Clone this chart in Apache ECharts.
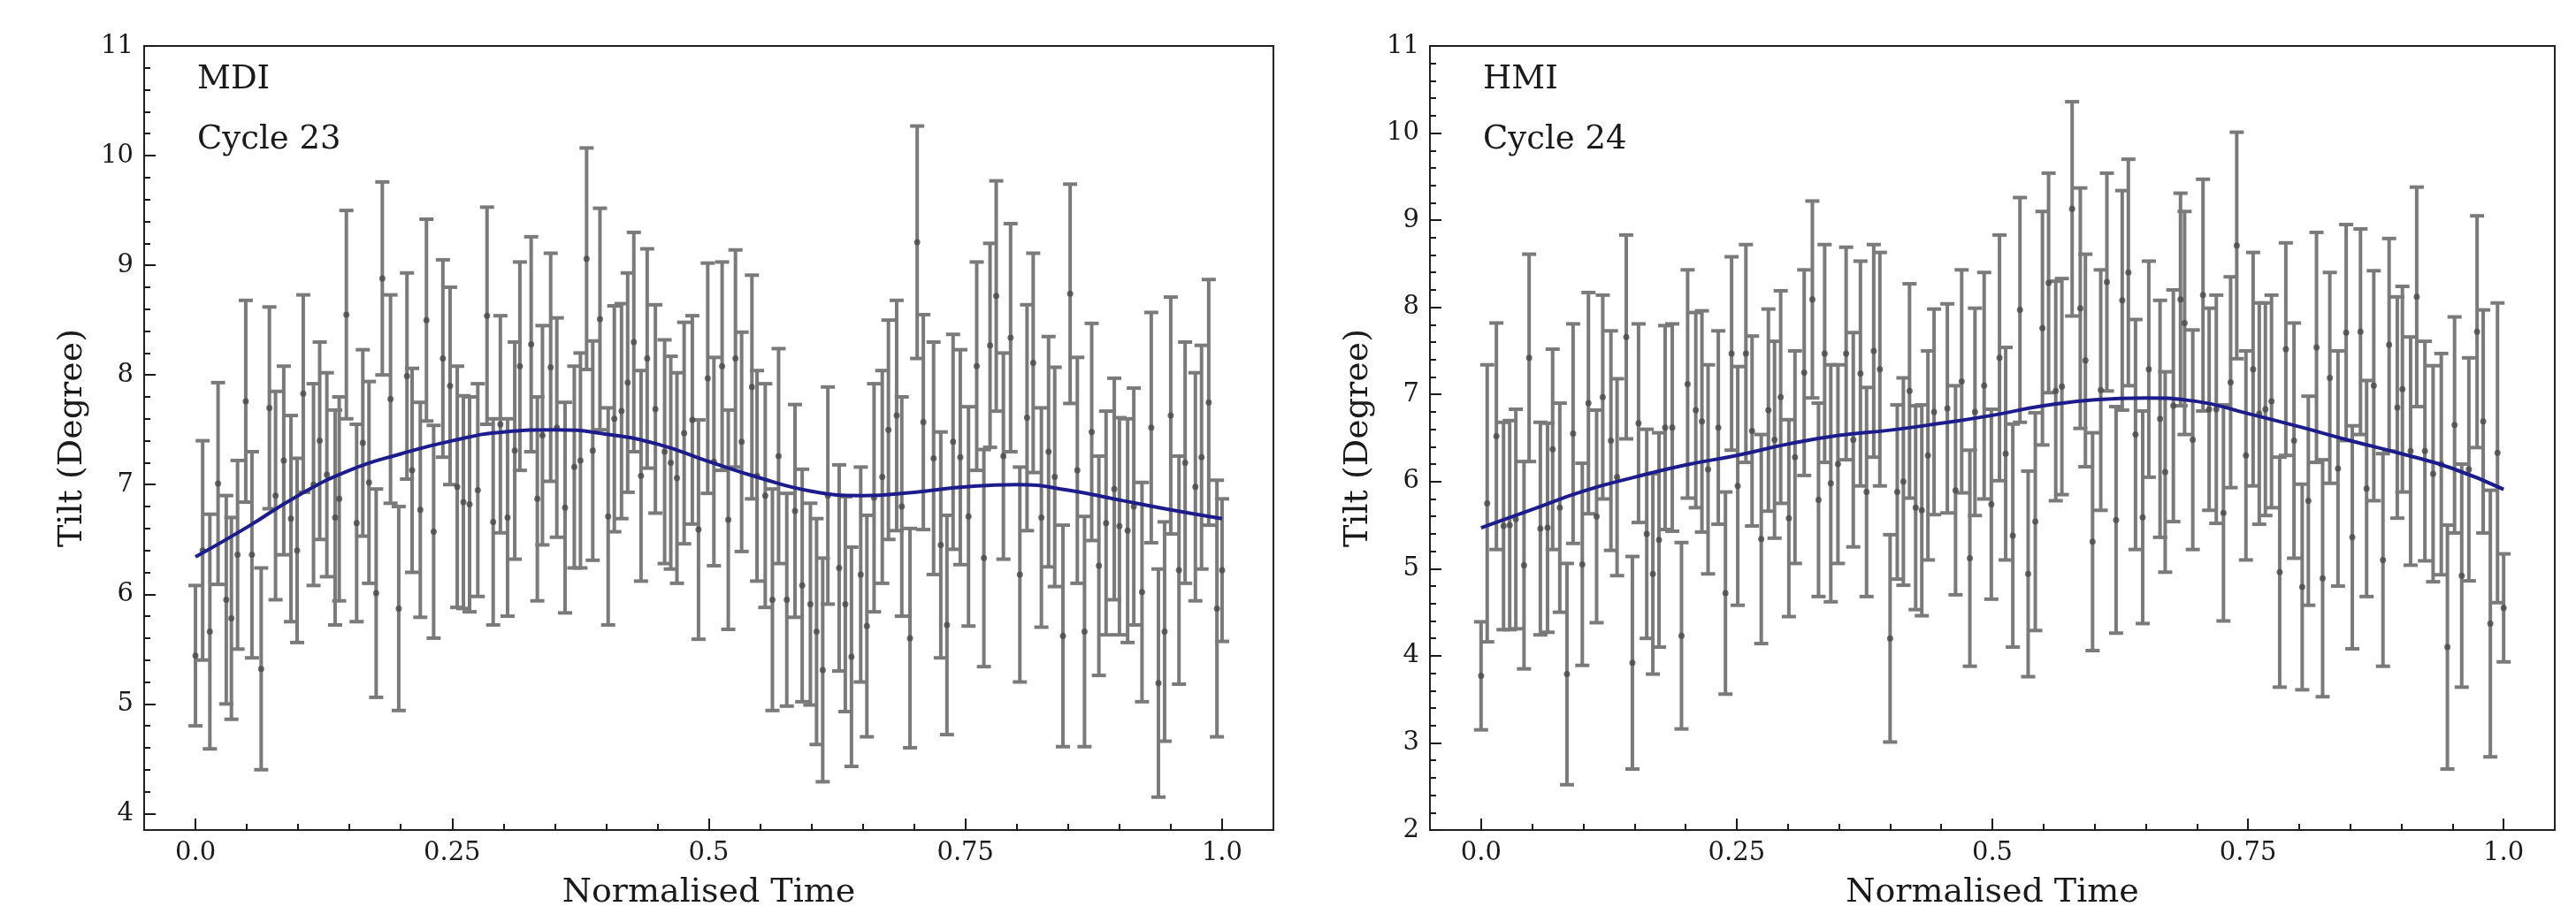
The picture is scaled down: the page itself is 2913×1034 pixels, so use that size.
<!DOCTYPE html>
<html>
<head>
<meta charset="utf-8">
<title>Tilt vs normalised time</title>
<script src="https://cdn.jsdelivr.net/npm/echarts@6/dist/echarts.min.js"></script>
<style>
	html, body { margin: 0; padding: 0; background: #fff; }
	#main { width: 2913px; height: 1034px; }
</style>
</head>
<body>
<div id="main"></div>
<script>
// tick marks and their labels
var xMajor = [0, 0.25, 0.5, 0.75, 1.0];
var xMajorLabels = ['0.0', '0.25', '0.5', '0.75', '1.0'];
var mdiYMajor = [4, 5, 6, 7, 8, 9, 10, 11];
var hmiYMajor = [2, 3, 4, 5, 6, 7, 8, 9, 10, 11];

// MDI, cycle 23: time, tilt, error half-width
var mdiTime = [0.000, 0.007, 0.014, 0.022, 0.030, 0.035, 0.041, 0.049, 0.055, 0.064,
	0.072, 0.078, 0.086, 0.093, 0.099, 0.105, 0.115, 0.121, 0.128, 0.136,
	0.140, 0.147, 0.157, 0.163, 0.169, 0.176, 0.182, 0.190, 0.198, 0.206,
	0.211, 0.219, 0.225, 0.232, 0.241, 0.248, 0.255, 0.261, 0.267, 0.275,
	0.284, 0.290, 0.297, 0.304, 0.311, 0.316, 0.327, 0.333, 0.338, 0.346,
	0.352, 0.360, 0.369, 0.375, 0.381, 0.387, 0.394, 0.402, 0.408, 0.415,
	0.421, 0.427, 0.434, 0.440, 0.448, 0.457, 0.463, 0.469, 0.476, 0.484,
	0.490, 0.499, 0.505, 0.513, 0.519, 0.526, 0.532, 0.542, 0.547, 0.555,
	0.562, 0.568, 0.576, 0.584, 0.591, 0.599, 0.605, 0.611, 0.616, 0.627,
	0.633, 0.639, 0.648, 0.654, 0.661, 0.669, 0.675, 0.683, 0.688, 0.696,
	0.703, 0.709, 0.719, 0.726, 0.732, 0.738, 0.745, 0.753, 0.761, 0.768,
	0.774, 0.780, 0.787, 0.794, 0.803, 0.810, 0.816, 0.824, 0.831, 0.837,
	0.845, 0.852, 0.859, 0.866, 0.873, 0.880, 0.887, 0.895, 0.900, 0.908,
	0.914, 0.922, 0.931, 0.938, 0.944, 0.950, 0.958, 0.964, 0.974, 0.980,
	0.987, 0.995, 1.000];
var mdiTilt = [5.44, 6.40, 5.66, 7.01, 5.95, 5.78, 6.36, 7.76, 6.36, 5.32,
	7.70, 6.90, 7.22, 6.69, 6.40, 7.83, 7.00, 7.40, 7.09, 6.70,
	6.87, 8.55, 6.65, 7.38, 7.02, 6.01, 8.88, 7.78, 5.87, 7.99,
	7.13, 6.77, 8.50, 6.57, 8.15, 7.90, 6.98, 6.84, 6.82, 6.95,
	8.54, 6.66, 7.55, 6.70, 7.31, 8.08, 8.28, 6.87, 7.45, 8.07,
	7.52, 6.79, 7.16, 7.22, 9.06, 7.31, 8.51, 6.71, 7.60, 7.67,
	7.93, 8.30, 7.08, 8.15, 7.69, 7.30, 7.20, 7.06, 7.47, 7.59,
	6.59, 7.97, 7.21, 8.08, 6.68, 8.15, 7.39, 7.89, 7.08, 6.90,
	5.95, 7.26, 5.95, 6.76, 6.08, 5.91, 5.66, 5.31, 6.90, 6.24,
	5.91, 5.43, 6.18, 5.71, 6.88, 7.07, 7.50, 7.63, 6.80, 5.60,
	9.21, 7.57, 7.24, 6.45, 5.72, 7.39, 7.25, 6.71, 8.08, 6.33,
	8.27, 8.72, 7.26, 8.34, 6.18, 7.61, 8.11, 6.70, 7.30, 7.07,
	5.62, 8.74, 7.13, 5.66, 7.48, 6.26, 6.65, 6.96, 6.62, 6.58,
	6.80, 6.02, 7.52, 5.19, 5.66, 7.63, 6.22, 7.20, 6.98, 7.25,
	7.75, 5.87, 6.22];
var mdiErr = [0.64, 1.00, 1.07, 0.92, 0.95, 0.92, 0.86, 0.92, 0.94, 0.92,
	0.92, 0.95, 0.86, 0.94, 0.84, 0.90, 0.92, 0.90, 0.93, 0.98,
	0.93, 0.95, 0.90, 0.85, 0.92, 0.95, 0.88, 0.95, 0.93, 0.94,
	0.93, 0.98, 0.92, 0.97, 0.90, 0.90, 1.10, 0.97, 0.98, 0.97,
	0.99, 0.94, 0.99, 0.90, 0.99, 0.95, 0.98, 0.93, 1.00, 1.04,
	1.00, 0.96, 0.92, 0.98, 1.01, 1.00, 1.01, 0.99, 1.03, 0.98,
	1.00, 1.00, 0.96, 1.00, 0.95, 1.02, 0.97, 0.96, 1.01, 0.95,
	1.00, 1.05, 0.95, 0.95, 1.00, 0.99, 1.00, 1.02, 0.96, 1.02,
	1.01, 0.98, 0.97, 0.97, 1.06, 0.92, 1.03, 1.02, 0.99, 0.94,
	0.98, 1.00, 0.98, 1.01, 1.04, 0.97, 1.00, 1.05, 1.00, 1.00,
	1.06, 0.98, 1.06, 1.03, 1.00, 0.98, 0.98, 1.00, 0.95, 0.99,
	0.93, 1.05, 0.94, 1.04, 0.98, 1.03, 1.00, 1.00, 1.05, 1.00,
	1.01, 1.00, 1.03, 1.05, 0.99, 1.00, 1.02, 1.01, 0.99, 1.02,
	1.08, 1.00, 1.05, 1.04, 1.00, 1.08, 1.04, 1.10, 1.04, 1.02,
	1.12, 1.17, 0.65];

// HMI, cycle 24
var hmiTime = [0.000, 0.006, 0.015, 0.022, 0.028, 0.034, 0.042, 0.047, 0.058, 0.065,
	0.070, 0.077, 0.084, 0.090, 0.099, 0.105, 0.113, 0.119, 0.127, 0.133,
	0.142, 0.148, 0.154, 0.162, 0.168, 0.174, 0.180, 0.187, 0.196, 0.202,
	0.210, 0.216, 0.222, 0.232, 0.239, 0.245, 0.251, 0.259, 0.265, 0.274,
	0.281, 0.287, 0.293, 0.301, 0.307, 0.316, 0.324, 0.330, 0.336, 0.342,
	0.349, 0.357, 0.364, 0.371, 0.377, 0.384, 0.390, 0.400, 0.407, 0.413,
	0.419, 0.425, 0.431, 0.437, 0.443, 0.456, 0.464, 0.470, 0.478, 0.483,
	0.492, 0.499, 0.507, 0.513, 0.520, 0.527, 0.535, 0.542, 0.549, 0.555,
	0.562, 0.568, 0.578, 0.586, 0.591, 0.598, 0.606, 0.612, 0.621, 0.627,
	0.633, 0.640, 0.647, 0.653, 0.664, 0.669, 0.677, 0.684, 0.688, 0.696,
	0.706, 0.712, 0.719, 0.726, 0.733, 0.739, 0.748, 0.755, 0.761, 0.767,
	0.773, 0.781, 0.787, 0.795, 0.803, 0.809, 0.817, 0.823, 0.830, 0.838,
	0.846, 0.852, 0.860, 0.866, 0.873, 0.882, 0.888, 0.896, 0.901, 0.909,
	0.915, 0.923, 0.931, 0.939, 0.945, 0.952, 0.959, 0.966, 0.974, 0.980,
	0.987, 0.994, 1.000];
var hmiTilt = [3.77, 5.75, 6.52, 5.49, 5.50, 5.57, 5.04, 7.42, 5.46, 5.47,
	6.37, 5.70, 3.79, 6.55, 5.05, 6.90, 5.60, 6.97, 6.47, 6.05,
	7.66, 3.92, 6.67, 5.40, 4.94, 5.33, 6.62, 6.62, 4.23, 7.12,
	6.82, 6.69, 6.14, 6.62, 4.72, 7.47, 5.95, 7.47, 6.58, 5.34,
	6.82, 6.48, 6.97, 5.58, 6.28, 7.25, 8.09, 5.79, 7.47, 5.98,
	6.20, 7.47, 6.48, 7.24, 5.88, 7.50, 7.29, 4.20, 5.88, 6.00,
	7.04, 5.70, 5.67, 6.30, 6.80, 6.84, 5.90, 7.15, 5.12, 6.80,
	7.10, 5.74, 7.42, 6.32, 5.38, 7.97, 4.94, 5.54, 7.76, 8.28,
	7.04, 7.09, 9.13, 7.99, 7.39, 5.31, 7.05, 8.29, 5.56, 8.08,
	8.40, 6.54, 5.59, 7.29, 6.72, 6.11, 6.87, 8.09, 7.82, 6.48,
	8.14, 6.83, 6.83, 5.64, 7.14, 8.71, 6.30, 7.29, 6.78, 6.83,
	6.92, 4.96, 7.52, 6.47, 4.79, 5.78, 7.54, 4.89, 7.19, 6.15,
	7.71, 5.36, 7.72, 5.92, 7.10, 5.10, 7.57, 6.85, 7.06, 6.35,
	8.12, 6.35, 6.09, 6.20, 4.10, 6.65, 4.92, 6.14, 7.72, 6.69,
	4.37, 6.33, 4.55];
var hmiErr = [0.62, 1.59, 1.30, 1.19, 1.20, 1.26, 1.19, 1.19, 1.22, 1.20,
	1.15, 1.20, 1.27, 1.26, 1.16, 1.27, 1.22, 1.17, 1.26, 1.13,
	1.17, 1.22, 1.14, 1.20, 1.15, 1.23, 1.17, 1.19, 1.07, 1.31,
	1.12, 1.27, 1.20, 1.11, 1.16, 1.11, 1.37, 1.25, 1.09, 1.20,
	1.16, 1.13, 1.22, 1.13, 1.22, 1.18, 1.13, 1.11, 1.25, 1.36,
	1.14, 1.22, 1.23, 1.29, 1.20, 1.22, 1.34, 1.19, 1.00, 1.19,
	1.23, 1.17, 1.21, 1.20, 1.18, 1.20, 1.20, 1.28, 1.24, 1.19,
	1.30, 1.09, 1.41, 1.22, 1.28, 1.29, 1.18, 1.25, 1.34, 1.26,
	1.26, 1.24, 1.23, 1.38, 1.22, 1.25, 1.38, 1.25, 1.30, 1.26,
	1.30, 1.32, 1.22, 1.24, 1.36, 1.15, 1.33, 1.22, 1.28, 1.26,
	1.33, 1.16, 1.31, 1.24, 1.21, 1.30, 1.20, 1.34, 1.27, 1.22,
	1.22, 1.32, 1.22, 1.35, 1.18, 1.20, 1.32, 1.36, 1.21, 1.35,
	1.24, 1.28, 1.18, 1.24, 1.32, 1.22, 1.22, 1.27, 1.18, 1.31,
	1.26, 1.26, 1.24, 1.27, 1.40, 1.24, 1.28, 1.28, 1.33, 1.28,
	1.53, 1.72, 0.62];

// smooth fit curves, read every 0.05
var fitTime = [0, 0.05, 0.1, 0.15, 0.2, 0.25, 0.3, 0.35, 0.4, 0.45, 0.5,
	0.55, 0.6, 0.65, 0.7, 0.75, 0.8, 0.85, 0.9, 0.95, 1.0];
var mdiFit = [6.34, 6.61, 6.90, 7.13, 7.28, 7.40, 7.48, 7.50, 7.46, 7.37, 7.21,
	7.06, 6.94, 6.90, 6.93, 6.98, 7.00, 6.95, 6.86, 6.77, 6.69];
var hmiFit = [5.47, 5.68, 5.89, 6.05, 6.19, 6.30, 6.43, 6.53, 6.59, 6.67, 6.76,
	6.87, 6.94, 6.96, 6.92, 6.78, 6.63, 6.47, 6.32, 6.15, 5.91];

var FONT = '"DejaVu Serif", serif';
var INK = '#1a1a1a';

function steps(a, b, s) {
	var out = [];
	for (var v = a; v <= b + 1e-9; v += s) out.push(+v.toFixed(3));
	return out;
}

function xLabel(v) {
	for (var i = 0; i < xMajor.length; i++) {
		if (Math.abs(xMajor[i] - v) < 1e-6) return xMajorLabels[i];
	}
	return '';
}

// a pair of axes: one with major ticks + labels, one with minor ticks only
function valueAxis(gridIndex, min, max, major, minor, isX, name) {
	var common = {
		type: 'value', gridIndex: gridIndex, min: min, max: max,
		position: isX ? 'bottom' : 'left',
		axisLine: { show: false, onZero: false },
		splitLine: { show: false }
	};
	var main = Object.assign({}, common, {
		name: name,
		nameLocation: 'middle',
		nameGap: isX ? 52 : 62,
		nameTextStyle: { fontFamily: FONT, fontSize: 38, color: INK },
		axisTick: { show: true, inside: true, length: 13, customValues: major,
			lineStyle: { color: INK, width: 2 } },
		axisLabel: { show: true, customValues: major, margin: 12,
			fontFamily: FONT, fontSize: 29, color: INK,
			formatter: isX ? xLabel : function (v) { return String(v); } }
	});
	var sub = Object.assign({}, common, {
		axisTick: { show: true, inside: true, length: 7, customValues: minor,
			lineStyle: { color: INK, width: 2 } },
		axisLabel: { show: false }
	});
	return [main, sub];
}

function renderErr(params, api) {
	var x = api.value(0);
	var lo = api.coord([x, api.value(1)]);
	var hi = api.coord([x, api.value(2)]);
	var hw = 8;
	var st = { stroke: '#7a7a7a', lineWidth: 4 };
	return {
		type: 'group',
		children: [
			{ type: 'line', shape: { x1: lo[0], y1: lo[1], x2: hi[0], y2: hi[1] }, style: st },
			{ type: 'line', shape: { x1: lo[0] - hw, y1: lo[1], x2: lo[0] + hw, y2: lo[1] }, style: st },
			{ type: 'line', shape: { x1: hi[0] - hw, y1: hi[1], x2: hi[0] + hw, y2: hi[1] }, style: st }
		]
	};
}

function panelSeries(axisOffset, time, tilt, err, fit) {
	var bars = time.map(function (t, i) { return [t, tilt[i] - err[i], tilt[i] + err[i]]; });
	var dots = time.map(function (t, i) { return [t, tilt[i]]; });
	var curve = fitTime.map(function (t, i) { return [t, fit[i]]; });
	return [{
		type: 'custom', xAxisIndex: axisOffset, yAxisIndex: axisOffset,
		renderItem: renderErr, encode: { x: 0, y: [1, 2] }, data: bars, z: 2, silent: true
	}, {
		type: 'scatter', xAxisIndex: axisOffset, yAxisIndex: axisOffset,
		symbolSize: 7, itemStyle: { color: '#4a4a4a' }, data: dots, z: 3, silent: true
	}, {
		type: 'line', xAxisIndex: axisOffset, yAxisIndex: axisOffset,
		smooth: true, showSymbol: false, data: curve, z: 4,
		lineStyle: { color: '#1c1c8c', width: 4 }
	}];
}

function showChart() {
	var myChart = echarts.init(document.getElementById('main'));
	var xMinor = steps(0, 1, 0.05);
	var xa = valueAxis(0, -0.05, 1.05, xMajor, xMinor, true, 'Normalised Time')
		.concat(valueAxis(1, -0.05, 1.05, xMajor, xMinor, true, 'Normalised Time'));
	var ya = valueAxis(0, 3.85, 11, mdiYMajor, steps(4, 11, 0.2), false, 'Tilt (Degree)')
		.concat(valueAxis(1, 2, 11, hmiYMajor, steps(2, 11, 0.2), false, 'Tilt (Degree)'));

	var labelStyle = { fontFamily: FONT, fontSize: 37, fill: INK };
	var option = {
		backgroundColor: '#fff',
		animation: false,
		grid: [
			{ left: 163, top: 52, width: 1277, height: 896, show: true, borderColor: '#222', borderWidth: 2 },
			{ left: 1617, top: 52, width: 1272, height: 896, show: true, borderColor: '#222', borderWidth: 2 }
		],
		xAxis: xa,
		yAxis: ya,
		graphic: [
			{ type: 'text', left: 223, top: 72, style: Object.assign({ text: 'MDI' }, labelStyle) },
			{ type: 'text', left: 223, top: 140, style: Object.assign({ text: 'Cycle 23' }, labelStyle) },
			{ type: 'text', left: 1677, top: 72, style: Object.assign({ text: 'HMI' }, labelStyle) },
			{ type: 'text', left: 1677, top: 140, style: Object.assign({ text: 'Cycle 24' }, labelStyle) }
		],
		series: panelSeries(0, mdiTime, mdiTilt, mdiErr, mdiFit)
			.concat(panelSeries(2, hmiTime, hmiTilt, hmiErr, hmiFit))
	};
	myChart.setOption(option);
}

showChart();
</script>
</body>
</html>
